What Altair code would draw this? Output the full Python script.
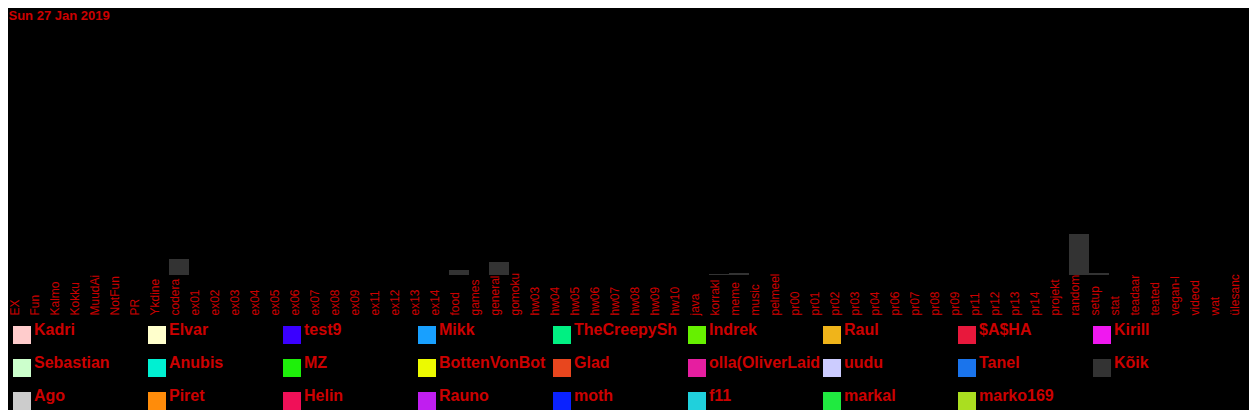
import altair as alt
import pandas as pd

channels = [
    "EX", "Fun", "Kalmo", "Kokku", "MuudAi", "NotFun", "PR", "Ykdine", "codera",
    "ex01", "ex02", "ex03", "ex04", "ex05", "ex06", "ex07", "ex08", "ex09",
    "ex11", "ex12", "ex13", "ex14", "food", "games", "general", "gomoku",
    "hw03", "hw04", "hw05", "hw06", "hw07", "hw08", "hw09", "hw10", "java",
    "korrakl", "meme", "music", "pelmeel", "pr00", "pr01", "pr02", "pr03",
    "pr04", "pr06", "pr07", "pr08", "pr09", "pr11", "pr12", "pr13", "pr14",
    "projekt", "random", "setup", "stat", "teadaar", "teated", "vegan-l",
    "videod", "wat", "ülesanc",
]

# messages from "Kõik" (all) per channel
active_channels = ["codera", "food", "general", "korrakl", "meme", "random", "setup"]
active_counts = [16, 5, 13, 1, 2, 41, 2]

users = [
    "Kadri", "Sebastian", "Ago",
    "Elvar", "Anubis", "Piret",
    "test9", "MZ", "Helin",
    "Mikk", "BottenVonBot", "Rauno",
    "TheCreepySh", "Glad", "moth",
    "Indrek", "olla(OliverLaid", "f11",
    "Raul", "uudu", "markal",
    "$A$HA", "Tanel", "marko169",
    "Kirill", "Kõik",
]
user_colors = [
    "#ffcccc", "#ccffcc", "#cccccc",
    "#ffffcc", "#00f0d2", "#ff8c0a",
    "#3a00ff", "#1ef00a", "#f01058",
    "#18a0ff", "#ecfa00", "#c01ef0",
    "#00f082", "#e8461e", "#0a22ff",
    "#66f000", "#e61ea0", "#20d0dc",
    "#f0b41a", "#ccccff", "#20ea40",
    "#e8183c", "#1a74ec", "#aade20",
    "#f018f0", "#333333",
]

count_by_channel = dict(zip(active_channels, active_counts))
df = pd.DataFrame({
    "channel": channels,
    "messages": [count_by_channel.get(c, 0) for c in channels],
    "user": ["Kõik"] * len(channels),
})

RED = "#cc0000"
FONT = "Liberation Sans"

chart = alt.Chart(df).mark_bar().encode(
    x=alt.X(
        "channel:N",
        sort=channels,
        scale=alt.Scale(domain=channels, paddingInner=0, paddingOuter=0),
        axis=alt.Axis(
            title=None, ticks=False, domain=False, labelAngle=270,
            labelAlign="left", labelBaseline="alphabetic", labelPadding=40,
            labelColor=RED, labelFont=FONT, labelFontSize=12, labelLimit=80,
            labelOverlap=False,
        ),
    ),
    y=alt.Y("messages:Q", scale=alt.Scale(domain=[0, 250]), axis=None),
    color=alt.Color(
        "user:N",
        scale=alt.Scale(domain=users, range=user_colors),
        legend=alt.Legend(
            title=None, orient="none", legendX=4, legendY=301, columns=9,
            symbolType="square", symbolSize=324, symbolStrokeWidth=0,
            labelFont=FONT, labelFontSize=16, labelFontWeight="bold",
            labelColor=RED, labelOffset=3, labelBaseline="alphabetic",
            rowPadding=11, columnPadding=2, gridAlign="all", labelLimit=114,
            padding=0,
        ),
    ),
).properties(
    width=1240,
    height=250,
    padding={"top": 2, "left": 0, "right": 0, "bottom": 0},
    background="black",
    title=alt.TitleParams(
        "Sun 27 Jan 2019", anchor="start", color=RED, font=FONT,
        fontSize=13, fontWeight="bold", offset=2,
    ),
).configure_view(stroke=None)

chart.save("out.html", embed_options={"renderer": "svg", "actions": False})
